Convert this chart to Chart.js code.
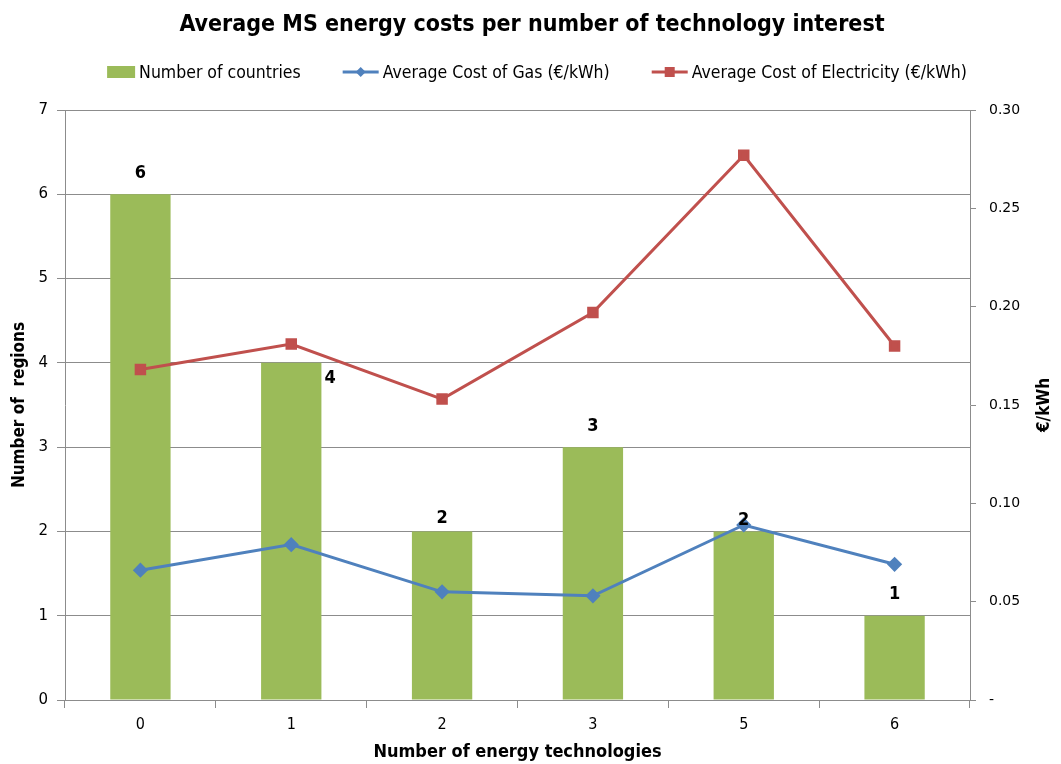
<!DOCTYPE html>
<html>
<head>
<meta charset="utf-8">
<script src="https://cdn.jsdelivr.net/npm/chart.js@4.4.1/dist/chart.umd.min.js"></script>
<style>
html,body{margin:0;padding:0;background:#fff;}
#wrap{position:relative;width:1061px;height:764px;}
</style>
</head>
<body>
<div id="wrap"><canvas id="c" width="1061" height="764"></canvas></div>
<script>
// ---- data ----
const categories = ['0', '1', '2', '3', '5', '6'];
const countries = [6, 4, 2, 3, 2, 1];
const gasCost = [0.066, 0.079, 0.055, 0.053, 0.089, 0.069];
const elecCost = [0.168, 0.181, 0.153, 0.197, 0.277, 0.180];
const leftAxisMax = 7;
const rightAxisMax = 0.30;

const titleText = 'Average MS energy costs per number of technology interest';
const seriesNames = ['Number of countries', 'Average Cost of Gas (€/kWh)', 'Average Cost of Electricity (€/kWh)'];

const GREEN = '#9BBB59', BLUE = '#4F81BD', RED = '#C0504D', GRID = '#8c8c8c';
const COND = '"DejaVu Sans Condensed", "DejaVu Sans", sans-serif';
const PLAIN = '"DejaVu Sans", sans-serif';

const decorPlugin = {
  id: 'decor',
  afterDraw(chart) {
    const ctx = chart.ctx;
    ctx.save();
    // title
    ctx.fillStyle = '#000';
    ctx.font = 'bold 23px ' + COND;
    ctx.textAlign = 'center';
    ctx.textBaseline = 'middle';
    ctx.fillText(titleText, 532, 25);

    // legend
    ctx.font = '17.5px ' + COND;
    ctx.textAlign = 'left';
    const symW = [28, 36, 36];
    const gap = 42;
    const widths = seriesNames.map((n, i) => symW[i] + 4 + ctx.measureText(n).width);
    const total = widths.reduce((a, b) => a + b, 0) + gap * 2;
    let x = 537 - total / 2;
    const ly = 72;
    seriesNames.forEach((n, i) => {
      if (i === 0) {
        ctx.fillStyle = GREEN;
        ctx.fillRect(x, ly - 6, 28, 12);
      } else {
        const col = i === 1 ? BLUE : RED;
        ctx.strokeStyle = col;
        ctx.lineWidth = 3;
        ctx.beginPath();
        ctx.moveTo(x, ly);
        ctx.lineTo(x + 36, ly);
        ctx.stroke();
        ctx.fillStyle = col;
        const cx = x + 18;
        if (i === 1) {
          ctx.beginPath();
          ctx.moveTo(cx, ly - 5); ctx.lineTo(cx + 5, ly); ctx.lineTo(cx, ly + 5); ctx.lineTo(cx - 5, ly);
          ctx.closePath(); ctx.fill();
        } else {
          ctx.fillRect(cx - 5, ly - 5, 10, 10);
        }
      }
      ctx.fillStyle = '#000';
      ctx.fillText(n, x + symW[i] + 4, ly + 1);
      x += widths[i] + gap;
    });

    // right axis title (reads bottom-to-top)
    const ca = chart.chartArea;
    ctx.save();
    ctx.translate(1045, (ca.top + ca.bottom) / 2);
    ctx.rotate(-Math.PI / 2);
    ctx.font = 'bold 17px ' + COND;
    ctx.textAlign = 'center';
    ctx.textBaseline = 'middle';
    ctx.fillText('€/kWh', 0, 0);
    ctx.restore();

    // bar data labels (bar dataset is index 2)
    const meta = chart.getDatasetMeta(2);
    const offsets = [[0, -21], [39, 15], [0, -13], [0, -21], [0, -11], [0, -21]];
    ctx.font = 'bold 18px ' + COND;
    ctx.textAlign = 'center';
    ctx.textBaseline = 'middle';
    ctx.fillStyle = '#000';
    meta.data.forEach((el, i) => {
      const o = offsets[i];
      ctx.fillText(String(countries[i]), el.x + o[0], el.y + o[1]);
    });
    ctx.restore();
  }
};

new Chart(document.getElementById('c'), {
  data: {
    labels: categories,
    datasets: [
      {
        type: 'line', label: seriesNames[2], data: elecCost, yAxisID: 'y2',
        borderColor: RED, backgroundColor: RED, borderWidth: 3,
        pointStyle: 'rect', pointRadius: 6, pointHoverRadius: 6, order: 0
      },
      {
        type: 'line', label: seriesNames[1], data: gasCost, yAxisID: 'y2',
        borderColor: BLUE, backgroundColor: BLUE, borderWidth: 3,
        pointStyle: 'rectRot', pointRadius: 5.5, pointHoverRadius: 5.5, order: 1
      },
      {
        type: 'bar', label: seriesNames[0], data: countries, yAxisID: 'y',
        backgroundColor: GREEN, barPercentage: 0.4, categoryPercentage: 1, order: 2
      }
    ]
  },
  options: {
    responsive: false,
    animation: false,
    events: [],
    layout: { padding: { top: 110, left: 0, right: 0, bottom: 0 } },
    plugins: { legend: { display: false }, title: { display: false }, tooltip: { enabled: false } },
    scales: {
      x: {
        type: 'category',
        grid: { display: true, drawOnChartArea: false, offset: true, color: GRID, tickLength: 8 },
        border: { color: GRID },
        ticks: { color: '#000', font: { family: COND, size: 16 }, padding: 7 },
        title: { display: true, text: 'Number of energy technologies', color: '#000',
                 font: { family: COND, size: 18, weight: 'bold' }, padding: { top: 0, bottom: 1 } },
        afterFit(s) { s.height = 64; }
      },
      y: {
        position: 'left', min: 0, max: leftAxisMax,
        ticks: { stepSize: 1, color: '#000', font: { family: PLAIN, size: 15 }, padding: 9 },
        grid: { color: GRID, tickLength: 8 },
        border: { color: GRID },
        title: { display: true, text: 'Number of  regions', color: '#000',
                 font: { family: COND, size: 17, weight: 'bold' }, padding: { top: 9, bottom: 0 } },
        afterFit(s) { s.width = 65; }
      },
      y2: {
        position: 'right', min: 0, max: rightAxisMax,
        ticks: { stepSize: 0.05, color: '#000', font: { family: PLAIN, size: 14 }, padding: 13,
                 callback: v => (Math.abs(v) < 1e-9 ? '-' : v.toFixed(2)) },
        grid: { drawOnChartArea: false, color: GRID, tickLength: 6 },
        border: { color: GRID },
        afterFit(s) { s.width = 91; }
      }
    }
  },
  plugins: [decorPlugin]
});
</script>
</body>
</html>
